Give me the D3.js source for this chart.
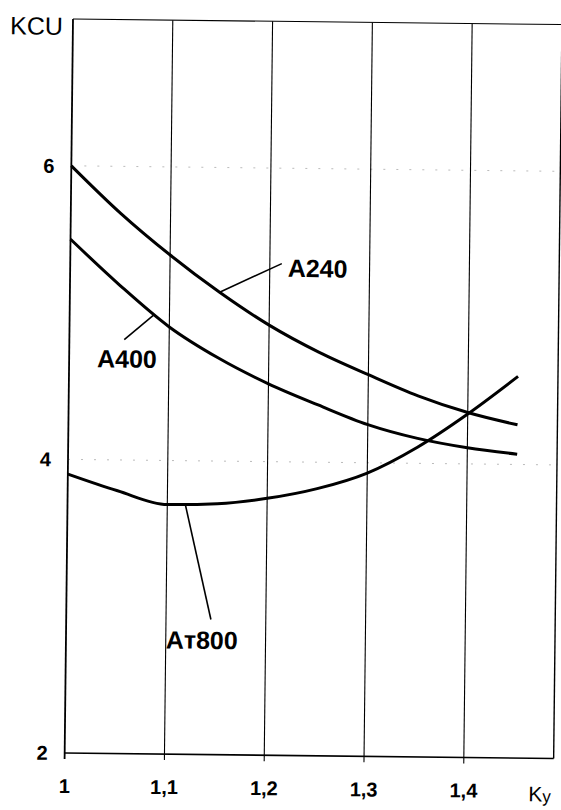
<!DOCTYPE html>
<html>
<head>
<meta charset="utf-8">
<script src="https://cdn.jsdelivr.net/npm/d3@7/dist/d3.min.js"></script>
<style>
  html, body { margin: 0; padding: 0; background: #fff; }
  svg { display: block; }
  text { font-family: "Liberation Sans", Arial, sans-serif; fill: #000; }
</style>
</head>
<body>
<script>
// Ky values at which the curves are sampled
const ky = [1.0, 1.05, 1.1, 1.15, 1.2, 1.25, 1.3, 1.35, 1.4, 1.45];
// KCU for each conductor
const a240  = [6.00, 5.68, 5.40, 5.15, 4.93, 4.75, 4.60, 4.46, 4.35, 4.27];
const a400  = [5.50, 5.19, 4.91, 4.70, 4.53, 4.39, 4.26, 4.17, 4.11, 4.07];
const at800 = [3.90, 3.79, 3.70, 3.71, 3.75, 3.82, 3.93, 4.11, 4.34, 4.60];
const seriesNames = ["A240", "A400", "Aт800"];
const xTicks = [1.0, 1.1, 1.2, 1.3, 1.4];
const xTickLabels = ["1", "1,1", "1,2", "1,3", "1,4"];
const yTicks = [2, 4, 6];
const yTickLabels = ["2", "4", "6"];

const svgW = 561, svgH = 810;
const plotW = 489, plotH = 734;

const svg = d3.select("body").append("svg")
  .attr("width", svgW).attr("height", svgH);

// whole drawing sits slightly tilted
const g = svg.append("g").attr("transform", "translate(73,19) rotate(0.65)");

const x = d3.scaleLinear().domain([1.0, 1.49]).range([0, plotW]);
const y = d3.scaleLinear().domain([2, 7]).range([plotH, 0]);

// faint dotted horizontal guides
g.selectAll("line.hgrid").data([4, 6]).enter().append("line")
  .attr("class", "hgrid")
  .attr("x1", 0).attr("x2", plotW)
  .attr("y1", d => y(d)).attr("y2", d => y(d))
  .attr("stroke", "#aaa").attr("stroke-width", 0.8)
  .attr("stroke-dasharray", "2,11");

// vertical grid lines with ticks poking below the frame
g.selectAll("line.vgrid").data(xTicks).enter().append("line")
  .attr("class", "vgrid")
  .attr("x1", d => x(d)).attr("x2", d => x(d))
  .attr("y1", 0).attr("y2", plotH + 6)
  .attr("stroke", "#000").attr("stroke-width", d => d === 1.0 ? 1.8 : 1.1);

// frame: top, right, bottom
g.append("line").attr("x1", 0).attr("x2", plotW).attr("y1", 0).attr("y2", 0)
  .attr("stroke", "#000").attr("stroke-width", 1.1);
g.append("line").attr("x1", plotW).attr("x2", plotW).attr("y1", 0).attr("y2", plotH)
  .attr("stroke", "#000").attr("stroke-width", 1.4);
g.append("line").attr("x1", 0).attr("x2", plotW).attr("y1", plotH).attr("y2", plotH)
  .attr("stroke", "#000").attr("stroke-width", 1.6);

// tick labels
g.selectAll("text.xt").data(xTicks).enter().append("text")
  .attr("class", "xt")
  .attr("x", d => x(d)).attr("y", plotH + 40)
  .attr("text-anchor", "middle")
  .attr("font-size", 20).attr("font-weight", "bold")
  .text((d, i) => xTickLabels[i]);

g.selectAll("text.yt").data(yTicks).enter().append("text")
  .attr("class", "yt")
  .attr("x", -17).attr("y", d => y(d))
  .attr("dy", "0.36em")
  .attr("text-anchor", "end")
  .attr("font-size", 20).attr("font-weight", "bold")
  .text((d, i) => yTickLabels[i]);

// axis titles
g.append("text").attr("x", -10).attr("y", 16)
  .attr("text-anchor", "end").attr("font-size", 25)
  .text("KCU");
const kyT = g.append("text").attr("x", 464).attr("y", plotH + 43)
  .attr("font-size", 21);
kyT.append("tspan").text("K");
kyT.append("tspan").attr("font-size", 17).attr("dy", 1).text("y");

// curves
const line = d3.line()
  .x((d, i) => x(ky[i]))
  .y(d => y(d))
  .curve(d3.curveMonotoneX);

[a240, a400, at800].forEach(s => {
  g.append("path").attr("d", line(s))
    .attr("fill", "none").attr("stroke", "#000")
    .attr("stroke-width", 3).attr("stroke-linejoin", "round");
});

// curve labels with leader lines
const labels = [
  { name: seriesNames[0], at: 1.15,  series: a240,  lx: 1.212, ly: 5.35, tx: 1.218, ty: 5.26 },
  { name: seriesNames[1], at: 1.085, series: a400,  lx: 1.055, ly: 4.82, tx: 1.028, ty: 4.63 },
  { name: seriesNames[2], at: 1.118, series: at800, lx: 1.145, ly: 2.92, tx: 1.10,  ty: 2.72 }
];
const interp = (s, v) => {
  const i = d3.bisectRight(ky, v) - 1;
  const t = (v - ky[i]) / (ky[i + 1] - ky[i]);
  return s[i] + t * (s[i + 1] - s[i]);
};
labels.forEach(l => {
  g.append("line")
    .attr("x1", x(l.at)).attr("y1", y(interp(l.series, l.at)))
    .attr("x2", x(l.lx)).attr("y2", y(l.ly))
    .attr("stroke", "#000").attr("stroke-width", 1.6);
  g.append("text").attr("x", x(l.tx)).attr("y", y(l.ty))
    .attr("font-size", 25).attr("font-weight", "bold")
    .text(l.name);
});
</script>
</body>
</html>
